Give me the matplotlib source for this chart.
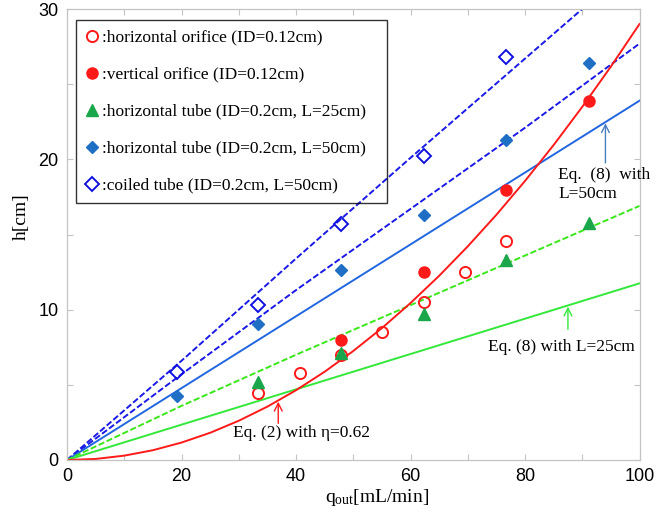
import matplotlib
matplotlib.use("Agg")
import matplotlib.pyplot as plt
from matplotlib.lines import Line2D

plt.rcParams['mathtext.fontset'] = 'custom'
plt.rcParams['mathtext.rm'] = 'Liberation Serif'
plt.rcParams['mathtext.it'] = 'Liberation Serif:italic'

# ---------------- data ----------------
# measured points
q_horiz_orifice = [33.4, 40.7, 47.9, 55.1, 62.4, 69.6, 76.7]
h_horiz_orifice = [4.44, 5.77, 7.0, 8.54, 10.53, 12.53, 14.6]

q_vert_orifice = [47.9, 62.4, 76.7, 91.2]
h_vert_orifice = [8.0, 12.53, 17.96, 23.9]

q_tube25 = [33.4, 47.9, 62.4, 76.7, 91.2]
h_tube25 = [5.2, 7.1, 9.7, 13.3, 15.75]

q_tube50 = [19.2, 33.4, 47.9, 62.4, 76.7, 91.2]
h_tube50 = [4.26, 9.03, 12.64, 16.3, 21.3, 26.4]

q_coiled = [19.2, 33.4, 47.9, 62.4, 76.7]
h_coiled = [5.87, 10.3, 15.68, 20.2, 26.8]

# fitted / model curves
q_fit = [0, 20, 40, 60, 80, 100]
h_fit_coiled = [0, 6.6, 13.4, 20.1, 26.7, 33.3]
h_fit_tube50 = [0, 5.7, 11.3, 16.7, 22.1, 27.7]
h_fit_tube25 = [0, 3.6, 7.0, 10.3, 13.6, 16.9]

q_eq8 = [0, 100]
h_eq8_L50 = [0, 23.9]
h_eq8_L25 = [0, 11.75]

q_eq2 = [0, 5, 10, 15, 20, 25, 30, 35, 40, 45, 50, 55, 60, 65, 70, 75, 80, 85, 90, 95, 100]
h_eq2 = [0, 0.07, 0.29, 0.65, 1.16, 1.81, 2.61, 3.55, 4.64, 5.87, 7.25,
         8.77, 10.44, 12.25, 14.21, 16.31, 18.56, 20.95, 23.49, 26.17, 29.0]

legend_labels = [':horizontal orifice (ID=0.12cm)',
                 ':vertical orifice (ID=0.12cm)',
                 ':horizontal tube (ID=0.2cm, L=25cm)',
                 ':horizontal tube (ID=0.2cm, L=50cm)',
                 ':coiled tube (ID=0.2cm, L=50cm)']

x_ticks = [0, 20, 40, 60, 80, 100]
y_ticks = [0, 10, 20, 30]

# ---------------- style ----------------
RED = '#ff1a1a'
GREEN_MARK = '#1aa64a'
GREEN_LINE = '#33e83a'
GREEN_DASH = '#3ae81a'
BLUE_MARK = '#1f6fc4'
BLUE_SOLID = '#2266e0'
BLUE_DASH = '#1a1ae6'
OPEN_BLUE = '#1010e0'
SPINE = '#c4c4c4'
SERIF = ['Liberation Serif', 'DejaVu Serif']
SANS = ['Liberation Sans', 'DejaVu Sans']

fig = plt.figure(figsize=(6.71, 5.12), dpi=100)
ax = fig.add_axes([67/671, 52/512, 572.5/671, 451/512])

lw = 1.4
dash = (3.2, 1.3)
ax.plot(q_fit, h_fit_coiled, color=BLUE_DASH, lw=lw, dashes=dash, zorder=2)
ax.plot(q_fit, h_fit_tube50, color=BLUE_DASH, lw=lw, dashes=dash, zorder=2)
ax.plot(q_eq8, h_eq8_L50, color=BLUE_SOLID, lw=lw, zorder=2)
ax.plot(q_fit, h_fit_tube25, color=GREEN_DASH, lw=lw, dashes=dash, zorder=2)
ax.plot(q_eq8, h_eq8_L25, color=GREEN_LINE, lw=lw, zorder=2)
ax.plot(q_eq2, h_eq2, color=RED, lw=lw, zorder=2)

ax.plot(q_horiz_orifice, h_horiz_orifice, 'o', ms=8, mfc='none', mec=RED, mew=1.4, zorder=3)
ax.plot(q_vert_orifice, h_vert_orifice, 'o', ms=8, mfc=RED, mec=RED, zorder=3)
ax.plot(q_tube25, h_tube25, '^', ms=8, mfc=GREEN_MARK, mec=GREEN_MARK, zorder=3)
ax.plot(q_tube50, h_tube50, 'D', ms=6.5, mfc=BLUE_MARK, mec=BLUE_MARK, zorder=3)
ax.plot(q_coiled, h_coiled, 'D', ms=7, mfc='none', mec=OPEN_BLUE, mew=1.4, zorder=3)

ax.set_xlim(0, 100)
ax.set_ylim(0, 30)
ax.set_xticks(x_ticks)
ax.set_yticks(y_ticks)
ax.set_xticks([10, 30, 50, 70, 90], minor=True)
ax.set_yticks([5, 15, 25], minor=True)
ax.tick_params(which='both', direction='in', top=True, right=True, length=4,
               color=SPINE, width=0.8, labelsize=13, pad=6)
for lab in ax.get_xticklabels() + ax.get_yticklabels():
    lab.set_family(SANS)
for s in ax.spines.values():
    s.set_color(SPINE)
    s.set_linewidth(0.9)

fig.text(377/671, 1 - 497/512, r'q$_{\rm out}$[mL/min]', family=SERIF, fontsize=14,
         ha='center', va='center')
fig.text(21/671, 1 - 217/512, 'h[cm]', family=SERIF, fontsize=14,
         ha='center', va='center', rotation=90)

# annotations
ax.annotate('', xy=(94.05, 22.4), xytext=(94.05, 19.76),
            arrowprops=dict(arrowstyle='->', color='#4a7fc4', lw=1.0,
                            mutation_scale=14, shrinkA=0, shrinkB=0))
ax.text(85.8, 18.35, 'Eq.  (8)  with\nL=50cm', family=SERIF, fontsize=12.5,
        ha='left', va='center', linespacing=1.25, clip_on=False)

ax.annotate('', xy=(87.5, 10.2), xytext=(87.5, 8.7),
            arrowprops=dict(arrowstyle='->', color=GREEN_LINE, lw=1.0,
                            mutation_scale=14, shrinkA=0, shrinkB=0))
ax.text(73.6, 7.54, 'Eq. (8) with L=25cm', family=SERIF, fontsize=12.5,
        ha='left', va='center')

ax.annotate('', xy=(36.9, 3.88), xytext=(36.9, 2.44),
            arrowprops=dict(arrowstyle='->', color=RED, lw=1.0,
                            mutation_scale=14, shrinkA=0, shrinkB=0))
ax.text(29.0, 1.78, 'Eq. (2) with η=0.62', family=SERIF, fontsize=12.5,
        ha='left', va='center')

# legend
handles = [
    Line2D([], [], ls='none', marker='o', ms=8, mfc='none', mec=RED, mew=1.4),
    Line2D([], [], ls='none', marker='o', ms=8, mfc=RED, mec=RED),
    Line2D([], [], ls='none', marker='^', ms=8, mfc=GREEN_MARK, mec=GREEN_MARK),
    Line2D([], [], ls='none', marker='D', ms=6.5, mfc=BLUE_MARK, mec=BLUE_MARK),
    Line2D([], [], ls='none', marker='D', ms=7, mfc='none', mec=OPEN_BLUE, mew=1.4),
]
x0 = (76 - 67) / 572.5
y_top = (460 - 20) / 451
y_bot = (460 - 207) / 451
w = (387 - 76) / 572.5
leg = ax.legend(handles, legend_labels, loc='upper left', mode='expand',
                bbox_to_anchor=(x0, y_bot, w, y_top - y_bot),
                borderaxespad=0, frameon=True, fancybox=False,
                facecolor='none', edgecolor='black',
                prop={'family': SERIF, 'size': 12.5},
                handlelength=0.8, handletextpad=0.15, labelspacing=1.2,
                borderpad=0.55)
leg.get_frame().set_linewidth(1.0)

fig.savefig('out.png', dpi=100)
